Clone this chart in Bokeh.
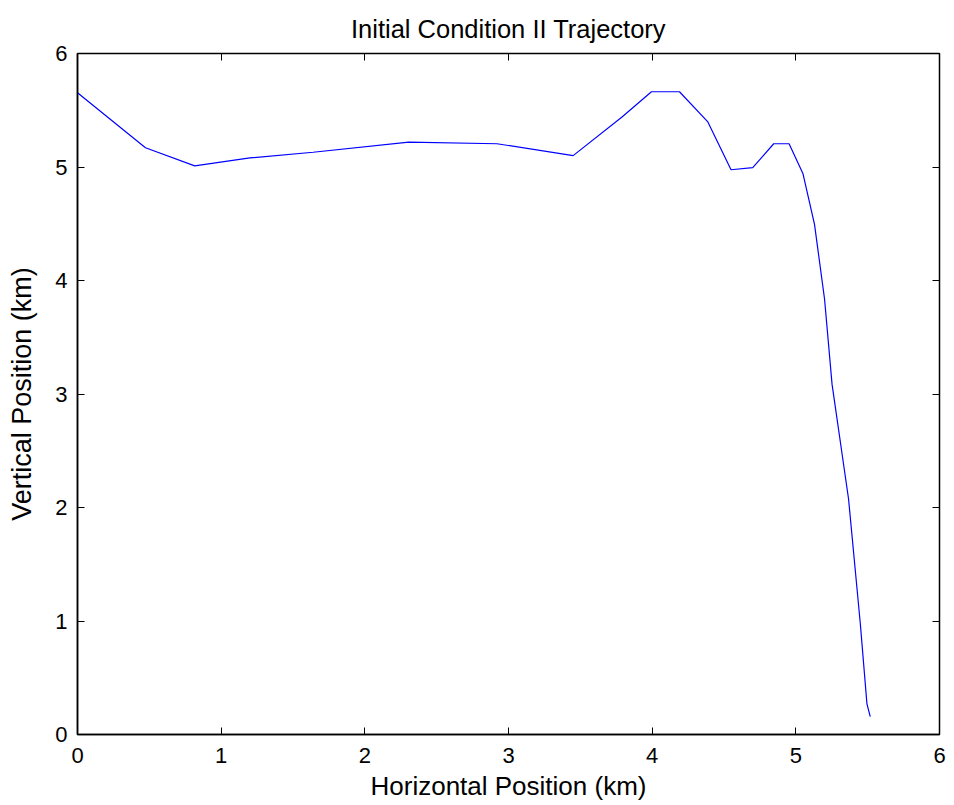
from bokeh.plotting import figure
from bokeh.models import LinearAxis, FixedTicker, Range1d
from bokeh.embed import file_html
from bokeh.resources import INLINE

# Trajectory data (km)
x_km = [0.0, 0.473, 0.816, 1.20, 1.64, 2.306, 2.92, 3.45, 3.79, 3.995, 4.19,
        4.386, 4.549, 4.70, 4.846, 4.953, 5.05, 5.13, 5.20, 5.252, 5.367,
        5.449, 5.495, 5.518]
y_km = [5.654, 5.17, 5.01, 5.08, 5.13, 5.22, 5.205, 5.10, 5.44, 5.663, 5.663,
        5.40, 4.976, 4.994, 5.205, 5.205, 4.94, 4.495, 3.835, 3.087, 2.075,
        0.974, 0.27, 0.158]
ticks = [0, 1, 2, 3, 4, 5, 6]

FONT = "Liberation Sans"

p = figure(frame_width=862, frame_height=681, output_backend="svg",
           toolbar_location=None,
           x_range=Range1d(0, 6), y_range=Range1d(0, 6),
           title="Initial Condition II Trajectory",
           min_border_left=77, min_border_right=7, min_border_top=53,
           min_border_bottom=71)
p.title.align = "center"
p.title.vertical_align = "top"
p.title.text_font = FONT
p.title.text_font_style = "normal"
p.title.text_font_size = "25.5px"
p.title.text_color = "black"
p.title.standoff = 18

p.xgrid.visible = False
p.ygrid.visible = False
p.outline_line_color = "black"
p.outline_line_width = 1.5

p.line(x_km, y_km, line_color="#0000FF", line_width=1.2)

for ax in (p.xaxis[0], p.yaxis[0]):
    ax.ticker = FixedTicker(ticks=ticks)
    ax.minor_tick_line_color = None
    ax.major_tick_in = 7
    ax.major_tick_out = 0
    ax.axis_line_color = "black"
    ax.axis_line_width = 1.5
    ax.major_tick_line_color = "black"
    ax.major_label_text_font = FONT
    ax.major_label_text_font_size = "22px"
    ax.major_label_text_color = "black"
    ax.axis_label_text_font = FONT
    ax.axis_label_text_font_style = "normal"
    ax.axis_label_text_color = "black"

p.xaxis[0].axis_label = "Horizontal Position (km)"
p.yaxis[0].axis_label = "Vertical Position (km)"
p.xaxis[0].axis_label_text_font_size = "26px"
p.yaxis[0].axis_label_text_font_size = "27px"
p.xaxis[0].major_label_standoff = 13
p.xaxis[0].axis_label_standoff = 5
p.yaxis[0].major_label_standoff = 10
p.yaxis[0].axis_label_standoff = 15

for loc in ("above", "right"):
    a = LinearAxis(ticker=FixedTicker(ticks=ticks))
    a.major_label_overrides = {t: "" for t in ticks}
    a.major_label_text_font_size = "1px"
    a.major_label_standoff = 0
    a.minor_tick_line_color = None
    a.major_tick_in = 7
    a.major_tick_out = 0
    a.axis_line_color = "black"
    a.major_tick_line_color = "black"
    p.add_layout(a, loc)

open("out.html", "w").write(file_html(p, INLINE))
